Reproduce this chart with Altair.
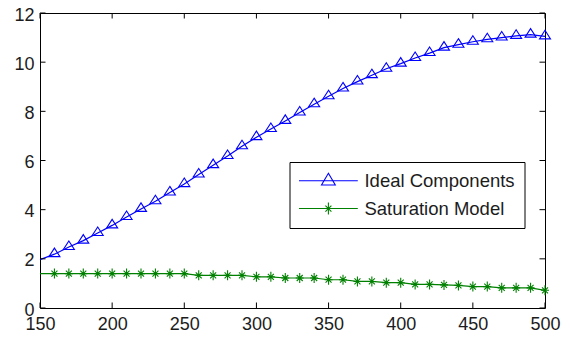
import altair as alt
import pandas as pd

# ---- data ----
x_vals = [150, 160, 170, 180, 190, 200, 210, 220, 230, 240, 250, 260, 270, 280,
          290, 300, 310, 320, 330, 340, 350, 360, 370, 380, 390, 400, 410, 420,
          430, 440, 450, 460, 470, 480, 490, 500]
ideal = [1.97, 2.19, 2.48, 2.74, 3.05, 3.36, 3.70, 4.03, 4.34, 4.70, 5.04, 5.43,
         5.81, 6.18, 6.58, 6.95, 7.28, 7.61, 7.95, 8.29, 8.61, 8.93, 9.21, 9.47,
         9.73, 9.94, 10.17, 10.37, 10.59, 10.71, 10.83, 10.93, 11.00, 11.07,
         11.12, 11.05]
saturation = [1.40, 1.40, 1.40, 1.40, 1.40, 1.40, 1.40, 1.40, 1.40, 1.40, 1.40,
              1.33, 1.33, 1.33, 1.33, 1.27, 1.27, 1.22, 1.22, 1.22, 1.15, 1.15,
              1.08, 1.08, 1.03, 1.03, 0.96, 0.96, 0.94, 0.92, 0.87, 0.87, 0.82,
              0.82, 0.82, 0.72]
series_names = ["Ideal Components", "Saturation Model"]
series_colors = ["#0000ff", "#008000"]
x_ticks = [150, 200, 250, 300, 350, 400, 450, 500]
y_ticks = [0, 2, 4, 6, 8, 10, 12]
marker_start = 160

# ---- layout / style ----
W, H = 505, 295
TICK = 5.5
FONT = "Liberation Sans"
TXT = "#1c1c1c"

TRI = "M0,-1.1L1,0.45L-1,0.45Z"
AST = "M0,-1L0,1M-0.8,0L0.8,0M-0.6,-0.6L0.6,0.6M-0.6,0.6L0.6,-0.6"
LEG_TRI = "M-4.9,0L4.9,0M0,-1.25L1.15,0.7L-1.15,0.7Z"
LEG_AST = ("M-4.9,0L4.9,0M0,-1L0,1M-0.65,0L0.65,0"
           "M-0.5,-0.5L0.5,0.5M-0.5,0.5L0.5,-0.5")

n = len(x_vals)
df = pd.DataFrame({
    "x": x_vals * 2,
    "y": ideal + saturation,
    "series": [series_names[0]] * n + [series_names[1]] * n,
})

xscale = alt.Scale(domain=[x_ticks[0], x_ticks[-1]], nice=False, zero=False)
yscale = alt.Scale(domain=[y_ticks[0], y_ticks[-1]], nice=False)
cscale = alt.Scale(domain=series_names, range=series_colors)

X = alt.X("x:Q", scale=xscale, title=None, axis=alt.Axis(values=x_ticks))
Y = alt.Y("y:Q", scale=yscale, title=None, axis=alt.Axis(values=y_ticks))

base = alt.Chart(df)
shapes = [TRI, AST]
sizes = [121, 100]

layers = []
for i, name in enumerate(series_names):
    s = base.transform_filter(alt.datum.series == name)
    layers.append(s.mark_line(strokeWidth=1.2, color=series_colors[i]).encode(x=X, y=Y))
for i, name in enumerate(series_names):
    s = base.transform_filter((alt.datum.series == name) & (alt.datum.x >= marker_start))
    layers.append(s.mark_point(shape=shapes[i], size=sizes[i], filled=False, opacity=1,
                               strokeWidth=1.1, color=series_colors[i]).encode(x=X, y=Y))

# legend-only layer (no rows drawn; entries come from the explicit scale domains)
legend_layer = base.transform_filter("false").mark_point(
    filled=False, opacity=1).encode(
    x=X, y=Y,
    color=alt.Color("series:N", scale=cscale, title=None),
    shape=alt.Shape("series:N", title=None,
                    scale=alt.Scale(domain=series_names, range=[LEG_TRI, LEG_AST])),
)
layers.append(legend_layer)

# inward ticks on all four sides
xt = pd.DataFrame({"x": x_ticks})
yt = pd.DataFrame({"y": y_ticks})
layers += [
    alt.Chart(xt).mark_rule(color="black", strokeWidth=1).encode(
        x=X, y=alt.value(H), y2=alt.value(H - TICK)),
    alt.Chart(xt).mark_rule(color="black", strokeWidth=1).encode(
        x=X, y=alt.value(0), y2=alt.value(TICK)),
    alt.Chart(yt).mark_rule(color="black", strokeWidth=1).encode(
        y=Y, x=alt.value(0), x2=alt.value(TICK)),
    alt.Chart(yt).mark_rule(color="black", strokeWidth=1).encode(
        y=Y, x=alt.value(W - TICK), x2=alt.value(W)),
]

chart = alt.layer(*layers).properties(
    width=W, height=H,
    padding={"left": 32, "top": 5, "right": 17, "bottom": 28},
    autosize=alt.AutoSizeParams(type="none"),
).configure_view(
    stroke="black", strokeWidth=1
).configure_axis(
    domain=False, ticks=False, grid=False,
    labelFont=FONT, labelFontSize=18, labelColor=TXT,
).configure_axisX(
    labelPadding=7.5, labelFlush=False,
).configure_axisY(
    labelPadding=6, labelOffset=2,
).configure_legend(
    orient="none", legendX=249.5, legendY=149, padding=9.5,
    strokeColor="black", fillColor="white",
    symbolSize=144, symbolStrokeWidth=1.1, symbolOffset=20.15,
    labelOffset=26.8, rowPadding=8.8,
    labelFont=FONT, labelFontSize=18.5, labelColor=TXT, labelLimit=0,
)

chart.save("out.html", embed_options={"renderer": "svg", "actions": False})
